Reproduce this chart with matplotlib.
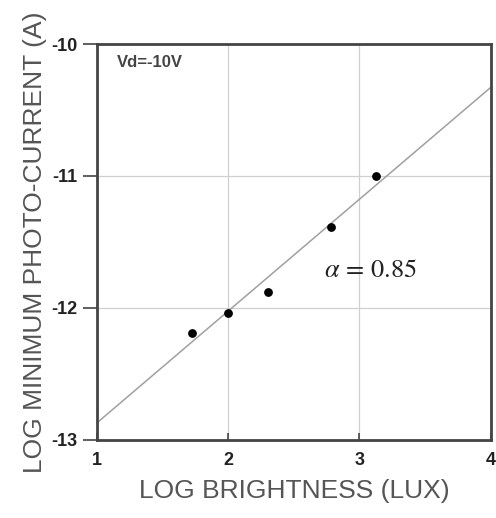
import numpy as np
import matplotlib.pyplot as plt

plt.rcParams['font.family'] = ['Liberation Sans', 'DejaVu Sans']
plt.rcParams['mathtext.fontset'] = 'stix'
plt.rcParams['axes.unicode_minus'] = False

# data
log_lux = [1.72, 2.00, 2.30, 2.78, 3.13]
log_current = [-12.19, -12.04, -11.88, -11.39, -11.00]
fit_x = [1.0, 4.0]
fit_y = [-12.87, -10.33]
xticks = [1, 2, 3, 4]
yticks = [-13, -12, -11, -10]

fig = plt.figure(figsize=(4.96, 5.18), dpi=100)
ax = fig.add_axes([0.196, 0.151, 0.793, 0.764])

ax.plot(fit_x, fit_y, color='#a0a0a0', linewidth=1.1, zorder=2)
ax.scatter(log_lux, log_current, s=28, color='black', zorder=3)

ax.set_xlim(1, 4)
ax.set_ylim(-13, -10)
ax.set_xticks(xticks)
ax.set_yticks(yticks)
ax.grid(True, color='#d0d0d0', linewidth=0.9)
ax.set_axisbelow(True)

for s in ax.spines.values():
    s.set_color('#444444')
    s.set_linewidth(2)

ax.tick_params(axis='x', direction='in', length=5, width=1.2, color='#444444',
               labelsize=13, pad=9, labelcolor='#222222')
ax.tick_params(axis='y', direction='out', length=10, width=1.2, color='#444444',
               labelsize=13, pad=4, labelcolor='#222222')
for lab in ax.get_xticklabels() + ax.get_yticklabels():
    lab.set_fontweight('bold')

ax.set_xlabel('LOG BRIGHTNESS (LUX)', fontsize=19, color='#555555', labelpad=7)
ax.set_ylabel('LOG MINIMUM PHOTO-CURRENT (A)', fontsize=19, color='#555555', labelpad=3)

ax.text(1.15, -10.14, 'Vd=-10V', fontsize=12, fontweight='bold', color='#444444', va='center')
ax.text(2.73, -11.71, r'$\alpha\,=\,0.85$', fontsize=19, color='#222222', va='center')

plt.savefig('out.png', dpi=100)
